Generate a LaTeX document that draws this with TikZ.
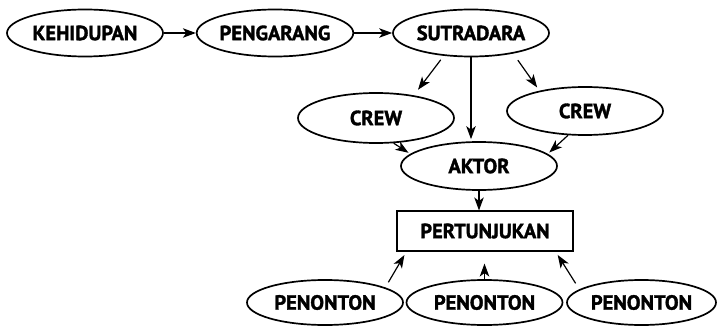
\documentclass[tikz,border=0pt]{standalone}
\usepackage{fontspec}
\setmainfont[BoldFeatures={FakeBold=1.6}]{PT Sans}
\usepackage{tikz}
\usetikzlibrary{arrows.meta, shapes.geometric}

\begin{document}
\begin{tikzpicture}[
			x=1pt, y=-1pt,
			font=\fontsize{20.5}{24}\selectfont\bfseries,
			oval/.style={
					draw,
					ellipse,
					line width=1.7pt,
					inner sep=0pt,
					minimum width=156pt,
					minimum height=47pt,
					align=center
				},
			stagebox/.style={
					draw,
					rectangle,
					line width=1.1pt,
					minimum width=176pt,
					minimum height=40pt,
					align=center
				},
			flow/.style={
			-{Stealth[length=13pt, width=9.5pt, inset=3.5pt]},
			line width=1.2pt
			}
			]

			\useasboundingbox (0,0) rectangle (717,326);

			% ================= baris atas =================
			\node[oval] (kehidupan) at (85,33) {KEHIDUPAN};
			\node[oval] (pengarang) at (275,33) {PENGARANG};
			\node[oval] (sutradara) at (471,33) {SUTRADARA};

			% ================= crew dan aktor =================
			\node[oval, minimum height=50pt] (crewL) at (376,118) {CREW};
			\node[oval, minimum height=48pt] (crewR) at (585,111) {CREW};
			\node[oval, minimum height=48pt] (aktor) at (479,166) {AKTOR};

			% ================= pertunjukan =================
			\node[stagebox] (pertunjukan) at (485,231) {PERTUNJUKAN};

			% ================= penonton =================
			\node[oval, minimum height=45pt] (penontonL) at (325,302.5) {PENONTON};
			\node[oval, minimum height=45pt] (penontonM) at (484.5,302.5) {PENONTON};
			\node[oval, minimum height=45pt, minimum width=149pt] (penontonR) at (641.5,302.5) {PENONTON};

			% alur utama
			\draw[flow] (kehidupan.east) -- (pengarang.west);
			\draw[flow] (pengarang.east) -- (sutradara.west);

			% sutradara ke crew dan aktor
			\draw[flow, shorten <=5pt, shorten >=7pt] (sutradara.220) -- (crewL.31);
			\draw[flow, shorten <=8pt, shorten >=4pt] (sutradara.334) -- (crewR.156);
			\draw[flow, shorten >=2pt] (sutradara.south) -- (sutradara.south |- aktor.north);

			% crew ke aktor
			\draw[flow, shorten >=2pt] (crewL.305) -- (aktor.170);
			\draw[flow, shorten >=2pt] (crewR.235) -- (aktor.10);

			% aktor ke pertunjukan
			\draw[flow] (aktor.south) -- (aktor.south |- pertunjukan.north);

			% penonton ke pertunjukan
			\draw[flow, shorten <=6pt, shorten >=4pt] (penontonL.14) -- ([xshift=10pt]pertunjukan.south west);
			\draw[flow, shorten >=12pt] (penontonM.north) -- (penontonM.north |- pertunjukan.south);
			\draw[flow, shorten <=7pt, shorten >=4pt] (penontonR.168) -- ([xshift=-18pt]pertunjukan.south east);

		\end{tikzpicture}
\end{document}
